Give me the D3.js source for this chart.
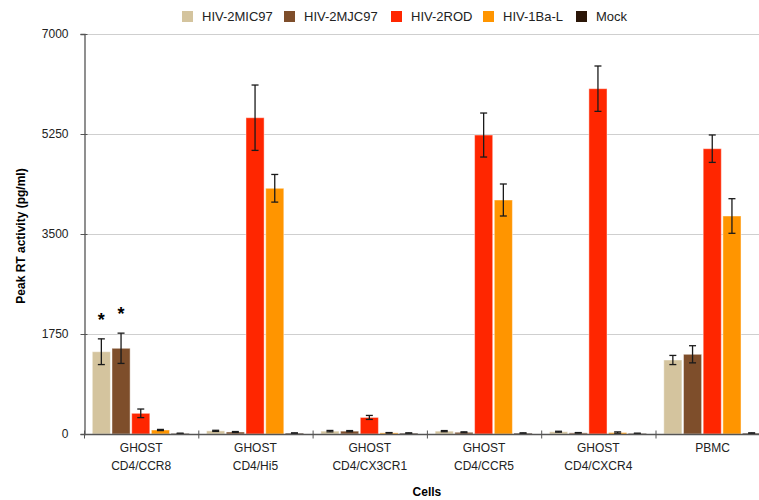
<!DOCTYPE html>
<html>
<head>
<meta charset="utf-8">
<script src="https://cdn.jsdelivr.net/npm/d3@7"></script>
<style>
  body { margin: 0; background: #fff; }
  text { font-family: "Liberation Sans", Arial, Helvetica, sans-serif; }
</style>
</head>
<body>
<div id="chart"></div>
<script>
// Peak RT activity by cell line and virus

var cells = ["GHOST|CD4/CCR8", "GHOST|CD4/Hi5", "GHOST|CD4/CX3CR1", "GHOST|CD4/CCR5", "GHOST|CD4/CXCR4", "PBMC"];
var series = ["HIV-2MIC97", "HIV-2MJC97", "HIV-2ROD", "HIV-1Ba-L", "Mock"];
var colors = ["#d4c49e", "#7e4e2b", "#ff2600", "#ff9500", "#2b1608"];

// values per series, one per cell line
var mic97 = [1440, 55, 50, 50, 40, 1295];
var mjc97 = [1500, 35, 50, 30, 20, 1395];
var rod   = [362, 5535, 290, 5232, 6043, 4993];
var bal   = [70, 4300, 20, 4095, 25, 3815];
var mock  = [10, 15, 15, 15, 10, 15];

// error (+/-)
var micErr  = [225, 10, 12, 10, 8, 80];
var mjcErr  = [265, 8, 10, 8, 5, 150];
var rodErr  = [75, 572, 35, 385, 397, 240];
var balErr  = [10, 242, 5, 280, 12, 303];
var mockErr = [5, 5, 5, 5, 5, 5];

var yTicks = [0, 1750, 3500, 5250, 7000];
// significance marks: [cell index, series index]
var stars = [[0, 0], [0, 1]];

var allVals = [mic97, mjc97, rod, bal, mock];
var allErr = [micErr, mjcErr, rodErr, balErr, mockErr];

var width = 759, height = 500;
var margin = {top: 34, left: 84, bottom: 66};
var groupW = 114.3;

var svg = d3.select("#chart").append("svg")
  .attr("width", width)
  .attr("height", height);

var x0 = d3.scaleBand()
  .domain(cells)
  .range([margin.left, margin.left + groupW * cells.length]);

var x1 = d3.scaleBand()
  .domain(series)
  .range([7.5, 106])
  .paddingInner(0.08)
  .paddingOuter(0.04);

var y = d3.scaleLinear()
  .domain([0, 7000])
  .range([height - margin.bottom, margin.top]);

// gridlines
svg.append("g")
  .selectAll("line")
  .data(yTicks.slice(1))
  .enter().append("line")
  .attr("x1", margin.left)
  .attr("x2", width)
  .attr("y1", function(d) { return y(d) + 0.5; })
  .attr("y2", function(d) { return y(d) + 0.5; })
  .attr("stroke", "#cfcfcf")
  .attr("stroke-width", 1);

// flatten data
var rows = [];
cells.forEach(function(c, i) {
  series.forEach(function(s, j) {
    rows.push({cell: c, series: s, si: j, value: allVals[j][i], err: allErr[j][i]});
  });
});

var bars = svg.append("g");
bars.selectAll("rect")
  .data(rows)
  .enter().append("rect")
  .attr("x", function(d) { return x0(d.cell) + x1(d.series); })
  .attr("width", x1.bandwidth())
  .attr("y", function(d) { return y(d.value); })
  .attr("height", function(d) { return y(0) - y(d.value); })
  .attr("fill", function(d) { return colors[d.si]; })
  .attr("stroke", "rgba(255,255,255,0.45)")
  .attr("stroke-width", 1);

// error bars
var eb = svg.append("g")
  .attr("stroke", "#1a1a1a")
  .attr("stroke-width", 1.3);
rows.forEach(function(d) {
  var cx = x0(d.cell) + x1(d.series) + x1.bandwidth() / 2;
  var top = y(d.value + d.err), bot = y(Math.max(0, d.value - d.err));
  eb.append("line").attr("x1", cx).attr("x2", cx).attr("y1", top).attr("y2", bot);
  eb.append("line").attr("x1", cx - 3.5).attr("x2", cx + 3.5).attr("y1", top).attr("y2", top);
  eb.append("line").attr("x1", cx - 3.5).attr("x2", cx + 3.5).attr("y1", bot).attr("y2", bot);
});

// asterisks
svg.append("g")
  .selectAll("text")
  .data(stars)
  .enter().append("text")
  .attr("x", function(d) { return x0(cells[d[0]]) + x1(series[d[1]]) + x1.bandwidth() / 2; })
  .attr("y", function(d) { return y(allVals[d[1]][d[0]] + allErr[d[1]][d[0]]) - 13; })
  .attr("text-anchor", "middle")
  .attr("font-size", 18)
  .attr("font-weight", "bold")
  .text("*");

// y axis
var yAxis = svg.append("g")
  .attr("transform", "translate(" + (margin.left + 0.5) + ",0)")
  .call(d3.axisLeft(y).tickValues(yTicks).tickFormat(d3.format("d")).tickSize(4).tickPadding(12));
yAxis.select(".domain").attr("stroke", "#555").attr("stroke-width", 1.3);
yAxis.selectAll(".tick line").attr("stroke", "#555").attr("x2", 3).attr("x1", -4);
yAxis.selectAll(".tick text")
  .attr("font-size", 12)
  .attr("fill", "#222")
  .attr("font-family", "'Liberation Sans', Arial, sans-serif");

// x axis
var xAxis = svg.append("g").attr("transform", "translate(0," + (y(0) + 0.5) + ")");
xAxis.append("line")
  .attr("x1", margin.left).attr("x2", width)
  .attr("stroke", "#555").attr("stroke-width", 1.3);
xAxis.selectAll(".sep")
  .data(cells)
  .enter().append("line")
  .attr("class", "sep")
  .attr("x1", function(d) { return x0(d) + 0.5; })
  .attr("x2", function(d) { return x0(d) + 0.5; })
  .attr("y1", -4).attr("y2", 4)
  .attr("stroke", "#555").attr("stroke-width", 1);
var lbl = xAxis.selectAll(".lbl")
  .data(cells)
  .enter().append("text")
  .attr("class", "lbl")
  .attr("text-anchor", "middle")
  .attr("font-size", 12)
  .attr("fill", "#222");
lbl.each(function(d) {
  var parts = d.split("|");
  var t = d3.select(this);
  parts.forEach(function(p, i) {
    t.append("tspan")
      .attr("x", x0(d) + x0.bandwidth() / 2)
      .attr("y", 17 + i * 18)
      .text(p);
  });
});

// axis titles
svg.append("text")
  .attr("x", x0(cells[0]) + 3 * groupW)
  .attr("y", 496)
  .attr("text-anchor", "middle")
  .attr("font-size", 12)
  .attr("font-weight", "bold")
  .text("Cells");

svg.append("text")
  .attr("transform", "translate(25," + 236 + ") rotate(-90)")
  .attr("text-anchor", "middle")
  .attr("font-size", 12)
  .attr("font-weight", "bold")
  .text("Peak RT activity (pg/ml)");

// legend
var legX = [182, 284, 391, 483, 576];
var leg = svg.append("g").selectAll("g")
  .data(series)
  .enter().append("g")
  .attr("transform", function(d, i) { return "translate(" + legX[i] + ",11)"; });
leg.append("rect")
  .attr("width", 11).attr("height", 11)
  .attr("fill", function(d, i) { return colors[i]; });
leg.append("text")
  .attr("x", 20).attr("y", 10)
  .attr("font-size", 13)
  .attr("fill", "#222")
  .text(function(d) { return d; });
</script>
</body>
</html>
